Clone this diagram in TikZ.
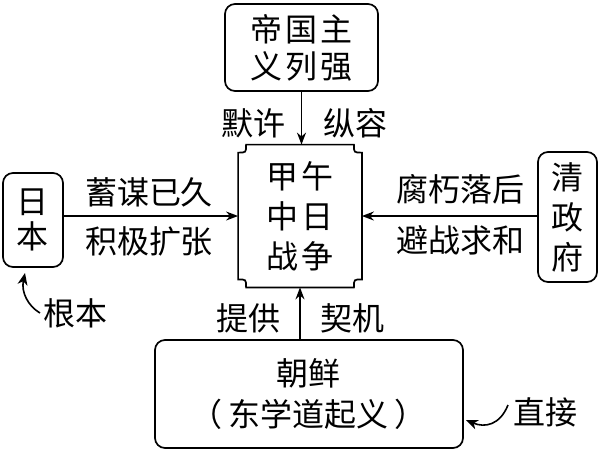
\documentclass[tikz,border=0pt]{standalone}
\usepackage{fontspec}
\newfontfamily\cjk{Noto Sans CJK SC}
\newfontfamily\cjkw[LetterSpace=8]{Noto Sans CJK SC}
\usetikzlibrary{arrows.meta,calc}
\begin{document}
\begin{tikzpicture}[x=0.5pt,y=-0.5pt,
  box/.style={draw, line width=0.85pt, rounded corners=5pt, inner sep=0pt, align=center},
  lbl/.style={font=\cjk\fontsize{16pt}{18pt}\selectfont, inner sep=0pt},
  conn/.style={line width=0.8pt, -{Stealth[length=6pt,width=4.5pt]}},
  curv/.style={line width=0.8pt, -{Stealth[length=6pt,width=5pt,inset=1.8pt]}}]
\useasboundingbox (0,0) rectangle (601,452);
% boxes
\node[box, minimum width=76.5pt, minimum height=43.5pt,
  font=\cjkw\fontsize{16pt}{18.5pt}\selectfont] (top) at (301.5,47.5) {帝国主\\义列强};
\node[inner sep=0pt, minimum width=61.5pt, minimum height=71pt, align=center,
  font=\cjkw\fontsize{16pt}{20pt}\selectfont] (c) at (300,216) {甲午\\中日\\战争};
\draw[line width=0.85pt]
  ($(c.north west)+(8,0)$) -- ($(c.north east)+(-8,0)$)
  .. controls ($(c.north east)+(-8,8)$) .. ($(c.north east)+(0,8)$)
  -- ($(c.south east)+(0,-8)$)
  .. controls ($(c.south east)+(-8,-8)$) .. ($(c.south east)+(-8,0)$)
  -- ($(c.south west)+(8,0)$)
  .. controls ($(c.south west)+(8,-8)$) .. ($(c.south west)+(0,-8)$)
  -- ($(c.north west)+(0,8)$)
  .. controls ($(c.north west)+(8,8)$) .. cycle;
\node[box, minimum width=30pt, minimum height=47pt,
  font=\cjk\fontsize{16pt}{17.5pt}\selectfont] (jp) at (33,220) {日\\本};
\node[box, minimum width=29.5pt, minimum height=65pt,
  font=\cjk\fontsize{16pt}{20pt}\selectfont] (q) at (567.5,217) {清\\政\\府};
\node[box, minimum width=154pt, minimum height=54pt,
  font=\cjk\fontsize{16pt}{20.5pt}\selectfont] (b) at (309,394) {朝鲜\\（\hspace{3pt}东学道起义\hspace{3pt}）};
% connectors
\draw[conn] (top.south) -- (top.south |- c.north);
\draw[conn] (jp.east |- c.west) -- (c.west);
\draw[conn] (q.west |- c.east) -- (c.east);
\draw[conn] (c.south |- b.north) -- (c.south);
% labels
\node[lbl] (l1) at (253,123) {默许};
\node[lbl] (l2) at (355,123) {纵容};
\node[lbl] (l3) at (149,192) {蓄谋已久};
\node[lbl] (l4) at (149,241) {积极扩张};
\node[lbl] (l5) at (460,189) {腐朽落后};
\node[lbl] (l6) at (460,240) {避战求和};
\node[lbl] (l7) at (248,318) {提供};
\node[lbl] (l8) at (352,318) {契机};
\node[lbl] (l9) at (76,313) {根本};
\node[lbl] (l10) at (545,412) {直接};
% curved pointers
\coordinate (p1) at (25,273);
\coordinate (p2) at (466,420);
\draw[curv] (40,313) .. controls (28,306) and (21,292) .. (p1);
\draw[curv] (508,405) .. controls (500,425) and (485,428) .. (p2);
\end{tikzpicture}
\end{document}
